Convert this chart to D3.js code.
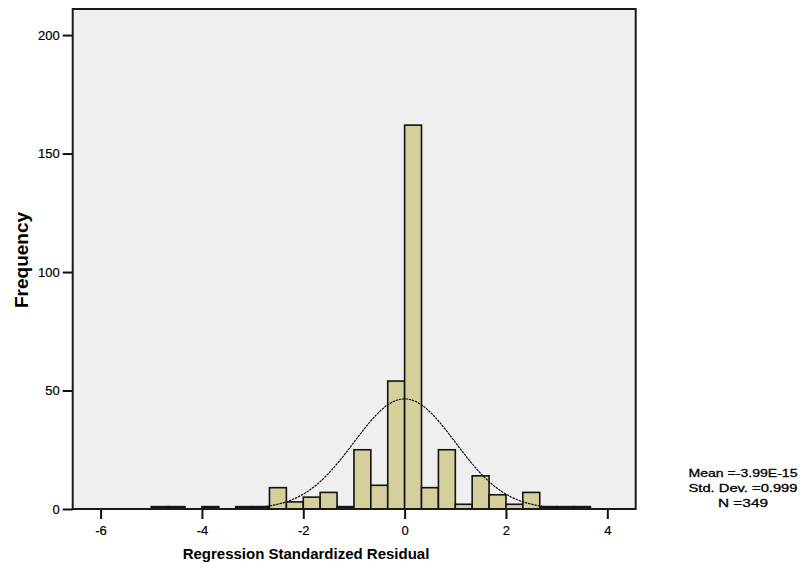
<!DOCTYPE html>
<html>
<head>
<meta charset="utf-8">
<script src="https://cdn.jsdelivr.net/npm/d3@7"></script>
<style>
  html, body { margin: 0; padding: 0; background: #ffffff; }
  svg { display: block; }
  text { font-family: Arial, "Liberation Sans", sans-serif; fill: #000; }
</style>
</head>
<body>
<svg id="chart" width="803" height="570"></svg>
<script>
// Histogram of regression standardized residuals (bin width 1/3)
const binLower = [-5.000, -4.667, -4.000, -3.333, -3.000, -2.667, -2.333, -2.000,
                  -1.667, -1.333, -1.000, -0.667, -0.333, 0.000, 0.333, 0.667,
                   1.000, 1.333, 1.667, 2.000, 2.333, 2.667, 3.000, 3.333];
const binCounts = [1, 1, 1, 1, 1, 9, 3, 5,
                   7, 1, 25, 10, 54, 162, 9, 25,
                   2, 14, 6, 2, 7, 1, 1, 1];
const binWidth = 1 / 3;

const xTicks = [-6, -4, -2, 0, 2, 4];
const yTicks = [0, 50, 100, 150, 200];

const statMean = -3.99e-15;
const statSd = 0.999;
const statN = 349;
const statLines = ["Mean =-3.99E-15", "Std. Dev. =0.999", "N =349"];

const svg = d3.select("#chart");

const plot = { left: 72.7, right: 635.7, top: 9, bottom: 509 };

const x = d3.scaleLinear().domain([-6.55, 4.56]).range([plot.left, plot.right]);
const y = d3.scaleLinear().domain([0, 211]).range([plot.bottom, plot.top]);

// plot background
svg.append("rect")
  .attr("x", plot.left).attr("y", plot.top)
  .attr("width", plot.right - plot.left).attr("height", plot.bottom - plot.top)
  .attr("fill", "#efefef");

// bars
svg.append("g").selectAll("rect")
  .data(binLower.map((lo, i) => ({ lo, n: binCounts[i] })))
  .join("rect")
  .attr("x", d => x(d.lo))
  .attr("width", d => x(d.lo + binWidth) - x(d.lo))
  .attr("y", d => y(d.n))
  .attr("height", d => y(0) - y(d.n))
  .attr("fill", d => d.n <= 1 ? "#222" : "#d4cf9b")
  .attr("stroke", "#111")
  .attr("stroke-width", 1.6);

// fitted normal curve
const peakScale = statN * binWidth / (statSd * Math.sqrt(2 * Math.PI));
const curveX = d3.range(-6.5, 4.5, 0.02);
const line = d3.line()
  .x(v => x(v))
  .y(v => y(peakScale * Math.exp(-0.5 * Math.pow((v - statMean) / statSd, 2))));
svg.append("path")
  .datum(curveX)
  .attr("d", line)
  .attr("fill", "none")
  .attr("stroke", "#111")
  .attr("stroke-width", 1.2)
  .attr("stroke-dasharray", "2.5,0.8");

// frame
svg.append("rect")
  .attr("x", plot.left).attr("y", plot.top)
  .attr("width", plot.right - plot.left).attr("height", plot.bottom - plot.top)
  .attr("fill", "none")
  .attr("stroke", "#1a1a1a")
  .attr("stroke-width", 2);

// axes
const yAxis = svg.append("g")
  .attr("transform", `translate(${plot.left},0)`)
  .call(d3.axisLeft(y).tickValues(yTicks).tickSize(10).tickPadding(3).tickFormat(d3.format("d")));
const xAxis = svg.append("g")
  .attr("transform", `translate(0,${plot.bottom})`)
  .call(d3.axisBottom(x).tickValues(xTicks).tickSize(10).tickPadding(7).tickFormat(d3.format("d")));

[yAxis, xAxis].forEach(g => {
  g.select(".domain").remove();
  g.selectAll(".tick line").attr("stroke", "#111").attr("stroke-width", 2);
  g.selectAll(".tick text")
    .attr("font-size", 13)
    .attr("font-family", "Arial, 'Liberation Sans', sans-serif")
    .attr("fill", "#000")
    .attr("stroke", "#000")
    .attr("stroke-width", 0.2);
});
xAxis.selectAll(".tick text").text(d => d < 0 ? "-" + Math.abs(d) : d);

// axis titles
svg.append("text")
  .attr("x", 306).attr("y", 559)
  .attr("text-anchor", "middle")
  .attr("font-size", 15).attr("font-weight", "bold")
  .text("Regression Standardized Residual");

svg.append("text")
  .attr("transform", "translate(28,260) rotate(-90)")
  .attr("text-anchor", "middle")
  .attr("font-size", 19).attr("font-weight", "bold")
  .text("Frequency");

// summary statistics
const statWidths = [109, 109, 50];
svg.append("g").selectAll("text")
  .data(statLines)
  .join("text")
  .attr("x", 743)
  .attr("y", (d, i) => 477 + i * 15)
  .attr("text-anchor", "middle")
  .attr("font-size", 11)
  .attr("stroke", "#000")
  .attr("stroke-width", 0.3)
  .attr("textLength", (d, i) => statWidths[i])
  .attr("lengthAdjust", "spacingAndGlyphs")
  .text(d => d);
</script>
</body>
</html>
